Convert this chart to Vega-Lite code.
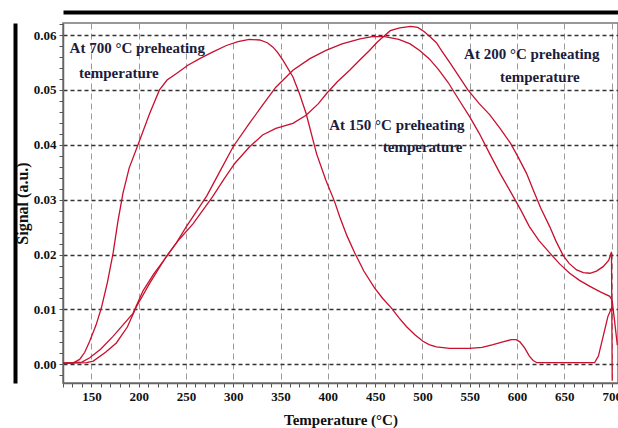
{
  "$schema": "https://vega.github.io/schema/vega-lite/v6.json",
  "width": 555,
  "height": 360,
  "autosize": {"type": "none"},
  "padding": {"left": 63, "top": 23, "right": 0, "bottom": 45},
  "background": "white",
  "config": {"view": {"stroke": "#777", "strokeWidth": 1.5}},
  "datasets": {
    "curves": [
      {"curve": "700", "T": 120, "s": 0.0002}, {"curve": "700", "T": 130, "s": 0.0002}, {"curve": "700", "T": 137.6, "s": 0.0009}, {"curve": "700", "T": 143, "s": 0.0022}, {"curve": "700", "T": 148.2, "s": 0.0042}, {"curve": "700", "T": 155, "s": 0.0072}, {"curve": "700", "T": 160.6, "s": 0.0103}, {"curve": "700", "T": 167, "s": 0.015}, {"curve": "700", "T": 173, "s": 0.0203}, {"curve": "700", "T": 178, "s": 0.026}, {"curve": "700", "T": 183.4, "s": 0.0312}, {"curve": "700", "T": 190, "s": 0.0358}, {"curve": "700", "T": 199.3, "s": 0.04}, {"curve": "700", "T": 211.6, "s": 0.0457}, {"curve": "700", "T": 222, "s": 0.05}, {"curve": "700", "T": 230, "s": 0.0518}, {"curve": "700", "T": 240, "s": 0.053}, {"curve": "700", "T": 252, "s": 0.0545}, {"curve": "700", "T": 264.5, "s": 0.0557}, {"curve": "700", "T": 278, "s": 0.0569}, {"curve": "700", "T": 292.7, "s": 0.0581}, {"curve": "700", "T": 305, "s": 0.0588}, {"curve": "700", "T": 317, "s": 0.0592}, {"curve": "700", "T": 328, "s": 0.0591}, {"curve": "700", "T": 336, "s": 0.0586}, {"curve": "700", "T": 342, "s": 0.0578}, {"curve": "700", "T": 347, "s": 0.0568}, {"curve": "700", "T": 352.6, "s": 0.0554}, {"curve": "700", "T": 363, "s": 0.0524}, {"curve": "700", "T": 370, "s": 0.0493}, {"curve": "700", "T": 377, "s": 0.0457}, {"curve": "700", "T": 388, "s": 0.0384}, {"curve": "700", "T": 398, "s": 0.0335}, {"curve": "700", "T": 407, "s": 0.0297}, {"curve": "700", "T": 412.5, "s": 0.0269}, {"curve": "700", "T": 420, "s": 0.0235}, {"curve": "700", "T": 428.4, "s": 0.0203}, {"curve": "700", "T": 438, "s": 0.017}, {"curve": "700", "T": 449.5, "s": 0.0139}, {"curve": "700", "T": 458, "s": 0.012}, {"curve": "700", "T": 467, "s": 0.0103}, {"curve": "700", "T": 475, "s": 0.0085}, {"curve": "700", "T": 483, "s": 0.0069}, {"curve": "700", "T": 492, "s": 0.0054}, {"curve": "700", "T": 500.5, "s": 0.0042}, {"curve": "700", "T": 507, "s": 0.0036}, {"curve": "700", "T": 514.7, "s": 0.0032}, {"curve": "700", "T": 528.8, "s": 0.0029}, {"curve": "700", "T": 550, "s": 0.0029}, {"curve": "700", "T": 563, "s": 0.0031}, {"curve": "700", "T": 574.6, "s": 0.0036}, {"curve": "700", "T": 585, "s": 0.0041}, {"curve": "700", "T": 594, "s": 0.0045}, {"curve": "700", "T": 599, "s": 0.0045}, {"curve": "700", "T": 603, "s": 0.0041}, {"curve": "700", "T": 608, "s": 0.003}, {"curve": "700", "T": 613, "s": 0.0015}, {"curve": "700", "T": 617, "s": 0.0007}, {"curve": "700", "T": 621, "s": 0.0003}, {"curve": "700", "T": 682, "s": 0.0003}, {"curve": "700", "T": 686, "s": 0.0015}, {"curve": "700", "T": 691, "s": 0.0051}, {"curve": "700", "T": 696, "s": 0.0087}, {"curve": "700", "T": 700, "s": 0.0103}, {"curve": "700", "T": 701.5, "s": 0.0098},
      {"curve": "150", "T": 120, "s": 0.0002}, {"curve": "150", "T": 140, "s": 0.0004}, {"curve": "150", "T": 148.3, "s": 0.0012}, {"curve": "150", "T": 160, "s": 0.0028}, {"curve": "150", "T": 172.9, "s": 0.0051}, {"curve": "150", "T": 183, "s": 0.0071}, {"curve": "150", "T": 194, "s": 0.0093}, {"curve": "150", "T": 204.6, "s": 0.0134}, {"curve": "150", "T": 216, "s": 0.0165}, {"curve": "150", "T": 229.3, "s": 0.0196}, {"curve": "150", "T": 240, "s": 0.0222}, {"curve": "150", "T": 250.4, "s": 0.0251}, {"curve": "150", "T": 262, "s": 0.0281}, {"curve": "150", "T": 272, "s": 0.0307}, {"curve": "150", "T": 286, "s": 0.0352}, {"curve": "150", "T": 300, "s": 0.0397}, {"curve": "150", "T": 317, "s": 0.0439}, {"curve": "150", "T": 330, "s": 0.047}, {"curve": "150", "T": 345, "s": 0.0505}, {"curve": "150", "T": 363, "s": 0.0536}, {"curve": "150", "T": 381, "s": 0.0557}, {"curve": "150", "T": 398, "s": 0.0572}, {"curve": "150", "T": 415, "s": 0.0584}, {"curve": "150", "T": 434, "s": 0.0593}, {"curve": "150", "T": 447, "s": 0.0597}, {"curve": "150", "T": 460, "s": 0.0597}, {"curve": "150", "T": 475, "s": 0.0592}, {"curve": "150", "T": 487, "s": 0.0584}, {"curve": "150", "T": 497, "s": 0.0572}, {"curve": "150", "T": 507, "s": 0.0557}, {"curve": "150", "T": 517, "s": 0.0537}, {"curve": "150", "T": 527, "s": 0.0514}, {"curve": "150", "T": 540, "s": 0.0478}, {"curve": "150", "T": 550, "s": 0.0451}, {"curve": "150", "T": 560, "s": 0.0421}, {"curve": "150", "T": 571, "s": 0.0384}, {"curve": "150", "T": 582, "s": 0.0348}, {"curve": "150", "T": 592, "s": 0.0318}, {"curve": "150", "T": 604, "s": 0.0281}, {"curve": "150", "T": 613, "s": 0.0251}, {"curve": "150", "T": 623, "s": 0.0226}, {"curve": "150", "T": 634.5, "s": 0.0203}, {"curve": "150", "T": 645, "s": 0.0183}, {"curve": "150", "T": 655.6, "s": 0.0166}, {"curve": "150", "T": 666, "s": 0.0153}, {"curve": "150", "T": 677, "s": 0.0142}, {"curve": "150", "T": 688, "s": 0.0132}, {"curve": "150", "T": 698, "s": 0.0124}, {"curve": "150", "T": 700.5, "s": 0.0117}, {"curve": "150", "T": 703, "s": 0.008}, {"curve": "150", "T": 706, "s": 0.0035},
      {"curve": "200", "T": 120, "s": 0.0002}, {"curve": "200", "T": 145, "s": 0.0003}, {"curve": "200", "T": 152, "s": 0.0006}, {"curve": "200", "T": 165, "s": 0.0022}, {"curve": "200", "T": 176.4, "s": 0.0039}, {"curve": "200", "T": 188, "s": 0.0068}, {"curve": "200", "T": 197.6, "s": 0.0105}, {"curve": "200", "T": 211.7, "s": 0.0148}, {"curve": "200", "T": 229, "s": 0.0196}, {"curve": "200", "T": 243, "s": 0.0228}, {"curve": "200", "T": 257.4, "s": 0.0256}, {"curve": "200", "T": 278, "s": 0.0305}, {"curve": "200", "T": 290, "s": 0.0337}, {"curve": "200", "T": 301.5, "s": 0.0366}, {"curve": "200", "T": 317, "s": 0.0396}, {"curve": "200", "T": 331, "s": 0.0418}, {"curve": "200", "T": 345, "s": 0.043}, {"curve": "200", "T": 363, "s": 0.0439}, {"curve": "200", "T": 377, "s": 0.0454}, {"curve": "200", "T": 390, "s": 0.0475}, {"curve": "200", "T": 398.4, "s": 0.0493}, {"curve": "200", "T": 410, "s": 0.0515}, {"curve": "200", "T": 423, "s": 0.0536}, {"curve": "200", "T": 434, "s": 0.0555}, {"curve": "200", "T": 444, "s": 0.0572}, {"curve": "200", "T": 452, "s": 0.0587}, {"curve": "200", "T": 458, "s": 0.0596}, {"curve": "200", "T": 466, "s": 0.0608}, {"curve": "200", "T": 476, "s": 0.0613}, {"curve": "200", "T": 487.7, "s": 0.0616}, {"curve": "200", "T": 495, "s": 0.0614}, {"curve": "200", "T": 502, "s": 0.0606}, {"curve": "200", "T": 508, "s": 0.0597}, {"curve": "200", "T": 514.7, "s": 0.0586}, {"curve": "200", "T": 520, "s": 0.0572}, {"curve": "200", "T": 530, "s": 0.0547}, {"curve": "200", "T": 548, "s": 0.05}, {"curve": "200", "T": 560, "s": 0.0475}, {"curve": "200", "T": 571, "s": 0.0455}, {"curve": "200", "T": 582, "s": 0.043}, {"curve": "200", "T": 593, "s": 0.0403}, {"curve": "200", "T": 601, "s": 0.0378}, {"curve": "200", "T": 610, "s": 0.0348}, {"curve": "200", "T": 617, "s": 0.0318}, {"curve": "200", "T": 625, "s": 0.0285}, {"curve": "200", "T": 634.5, "s": 0.0251}, {"curve": "200", "T": 641, "s": 0.0225}, {"curve": "200", "T": 648.5, "s": 0.0199}, {"curve": "200", "T": 655, "s": 0.0184}, {"curve": "200", "T": 663, "s": 0.0172}, {"curve": "200", "T": 670, "s": 0.0167}, {"curve": "200", "T": 677, "s": 0.0166}, {"curve": "200", "T": 684, "s": 0.017}, {"curve": "200", "T": 691, "s": 0.0178}, {"curve": "200", "T": 697, "s": 0.019}, {"curve": "200", "T": 699.8, "s": 0.0205}, {"curve": "200", "T": 700.6, "s": -0.003}
    ],
    "notes": [
      {"T": 127, "s": 0.0576, "text": "At 700 °C preheating"},
      {"T": 137, "s": 0.053, "text": "temperature"},
      {"T": 544, "s": 0.0566, "text": "At 200 °C preheating"},
      {"T": 582, "s": 0.0523, "text": "temperature"},
      {"T": 401.5, "s": 0.0436, "text": "At 150 °C preheating"},
      {"T": 458, "s": 0.0396, "text": "temperature"}
    ]
  },
  "layer": [
    {
      "data": {"name": "curves"},
      "mark": {"type": "line", "color": "#c8102e", "strokeWidth": 1.3, "clip": true},
      "encoding": {
        "x": {
          "field": "T", "type": "quantitative",
          "scale": {"domain": [120, 706.7], "nice": false, "zero": false},
          "axis": {
            "orient": "bottom",
            "values": [120, 130, 140, 150, 160, 170, 180, 190, 200, 210, 220, 230, 240, 250, 260, 270, 280, 290, 300, 310, 320, 330, 340, 350, 360, 370, 380, 390, 400, 410, 420, 430, 440, 450, 460, 470, 480, 490, 500, 510, 520, 530, 540, 550, 560, 570, 580, 590, 600, 610, 620, 630, 640, 650, 660, 670, 680, 690, 700],
            "labelExpr": "datum.value % 50 === 0 ? datum.label : ''",
            "labelOverlap": false,
            "labelFlush": false,
            "grid": true,
            "gridOpacity": {"condition": {"test": "datum.value % 50 === 0", "value": 1}, "value": 0},
            "gridDash": [6, 4],
            "gridColor": "#9a9a9a",
            "gridWidth": 1,
            "tickSize": 4,
            "tickColor": "#555",
            "domainColor": "#666",
            "domainWidth": 1.5,
            "labelFont": "Liberation Serif",
            "labelFontWeight": "bold",
            "labelFontSize": 13,
            "labelColor": "#111",
            "labelPadding": 3,
            "title": "Temperature (°C)",
            "titleFont": "Liberation Serif",
            "titleFontSize": 15,
            "titleFontWeight": "bold",
            "titleColor": "#111",
            "titlePadding": 9
          }
        },
        "y": {
          "field": "s", "type": "quantitative",
          "scale": {"domain": [-0.0034, 0.0622], "nice": false, "zero": false},
          "axis": {
            "orient": "left",
            "values": [-0.002, 0, 0.002, 0.004, 0.006, 0.008, 0.01, 0.012, 0.014, 0.016, 0.018, 0.02, 0.022, 0.024, 0.026, 0.028, 0.03, 0.032, 0.034, 0.036, 0.038, 0.04, 0.042, 0.044, 0.046, 0.048, 0.05, 0.052, 0.054, 0.056, 0.058, 0.06, 0.062],
            "labelExpr": "abs(datum.value*100 - round(datum.value*100)) < 0.001 ? format(datum.value, '.2f') : ''",
            "labelOverlap": false,
            "labelFlush": false,
            "grid": true,
            "gridOpacity": {"condition": {"test": "abs(datum.value*100 - round(datum.value*100)) < 0.001", "value": 1}, "value": 0},
            "gridDash": [4, 3],
            "gridColor": "#333",
            "gridWidth": 1.5,
            "tickSize": 4,
            "tickColor": "#555",
            "domainColor": "#666",
            "domainWidth": 1.5,
            "labelFont": "Liberation Serif",
            "labelFontWeight": "bold",
            "labelFontSize": 13,
            "labelColor": "#111",
            "labelPadding": 3,
            "title": "Signal (a.u.)",
            "titleFont": "Liberation Serif",
            "titleFontSize": 16,
            "titleFontWeight": "bold",
            "titleColor": "#111",
            "titlePadding": 3
          }
        },
        "detail": {"field": "curve"}
      }
    },
    {
      "data": {"name": "notes"},
      "mark": {"type": "text", "align": "left", "baseline": "middle", "font": "Liberation Serif", "fontWeight": "bold", "fontSize": 15, "color": "#1c1c3c"},
      "encoding": {
        "x": {"field": "T", "type": "quantitative", "axis": {"orient": "top", "offset": 11, "labels": false, "ticks": false, "grid": false, "title": null, "domainColor": "#000", "domainWidth": 4}},
        "y": {"field": "s", "type": "quantitative", "axis": {"orient": "left", "offset": 48, "labels": false, "ticks": false, "grid": false, "title": null, "domainColor": "#000", "domainWidth": 4}},
        "text": {"field": "text"}
      }
    }
  ],
  "resolve": {"axis": {"x": "independent", "y": "independent"}}
}
